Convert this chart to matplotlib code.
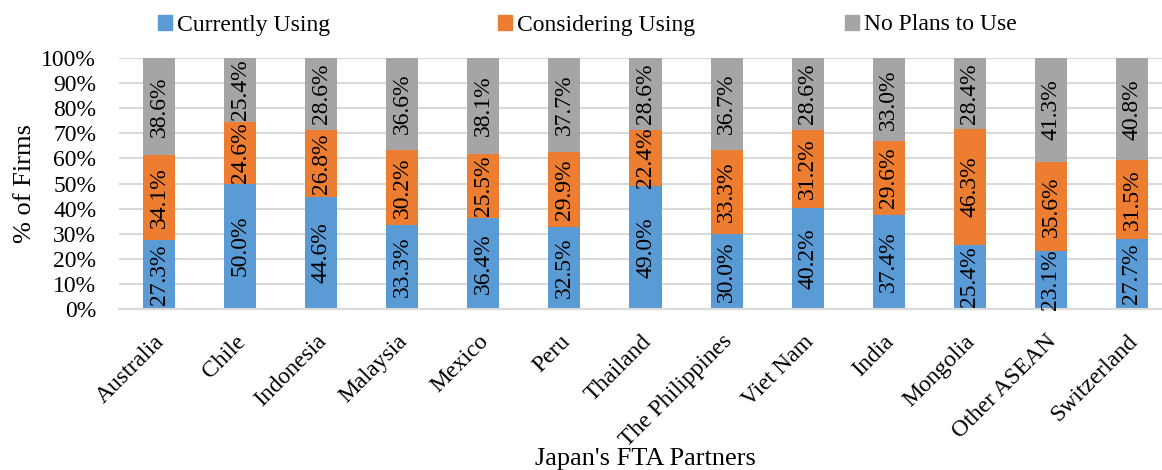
import numpy as np
import matplotlib.pyplot as plt
import matplotlib.transforms as mtransforms
from matplotlib.patches import Patch

# Data
partners = ['Australia', 'Chile', 'Indonesia', 'Malaysia', 'Mexico', 'Peru', 'Thailand',
            'The Philippines', 'Viet Nam', 'India', 'Mongolia', 'Other ASEAN', 'Switzerland']
currently = [27.3, 50.0, 44.6, 33.3, 36.4, 32.5, 49.0, 30.0, 40.2, 37.4, 25.4, 23.1, 27.7]
considering = [34.1, 24.6, 26.8, 30.2, 25.5, 29.9, 22.4, 33.3, 31.2, 29.6, 46.3, 35.6, 31.5]
no_plans = [38.6, 25.4, 28.6, 36.6, 38.1, 37.7, 28.6, 36.7, 28.6, 33.0, 28.4, 41.3, 40.8]

series = [('Currently Using', currently, '#5B9BD5'),
          ('Considering Using', considering, '#ED7D31'),
          ('No Plans to Use', no_plans, '#A5A5A5')]

plt.rcParams['font.family'] = ['Liberation Serif', 'DejaVu Serif']

W, H = 1162, 470
fig = plt.figure(figsize=(W / 100, H / 100), dpi=100)
ax = fig.add_axes([118.5 / W, (H - 309) / H, 1054 / W, (309 - 58) / H])

x = np.arange(len(partners))
bottom = np.zeros(len(partners))
for name, vals, col in series:
    vals = np.array(vals)
    ax.bar(x, vals, 0.395, bottom=bottom, color=col, label=name, zorder=2)
    for xi, b, v in zip(x, bottom, vals):
        ax.text(xi, b + v / 2, f'{v:.1f}%', rotation=90, ha='center', va='center',
                fontsize=17, color='black', zorder=3)
    bottom += vals

ax.set_xlim(-0.5, len(partners) - 0.5)
ax.set_ylim(0, 100)
ax.set_yticks(np.arange(0, 101, 10))
ax.set_yticklabels([f'{v}%' for v in range(0, 101, 10)], fontsize=17)
ax.set_xticks(x)
ax.set_xticklabels([])
ax.tick_params(axis='both', length=0)
ax.tick_params(axis='y', pad=16)

# category labels, rotated 45 degrees, right end under each bar
trans = ax.get_xaxis_transform() + mtransforms.ScaledTranslation(-5 / 100, -22 / 100, fig.dpi_scale_trans)
for xi, name in zip(x, partners):
    ax.text(xi, 0, name, rotation=45, ha='right', va='top', rotation_mode='anchor',
            fontsize=17, transform=trans)

ax.grid(axis='y', color='#D9D9D9', linewidth=1.5, zorder=0)
for s in ['top', 'right', 'left']:
    ax.spines[s].set_visible(False)
ax.spines['bottom'].set_color('#D9D9D9')
ax.spines['bottom'].set_linewidth(1.5)

ax.set_ylabel('% of Firms', fontsize=19)
ax.yaxis.set_label_coords(-0.078, 0.5)
ax.set_xlabel("Japan's FTA Partners", fontsize=19)
ax.xaxis.set_label_coords(0.5, -0.555)

# legend entries placed one by one, like the original
legend_x = [158, 498, 845]
for (name, _, col), lx in zip(series, legend_x):
    fig.legend([Patch(color=col)], [name], loc='center left',
               bbox_to_anchor=(lx / W, 1 - 25 / H), frameon=False, fontsize=17,
               handlelength=0.6, handleheight=0.6, handletextpad=0.2,
               borderpad=0, borderaxespad=0)

fig.savefig('out.png', dpi=100)
